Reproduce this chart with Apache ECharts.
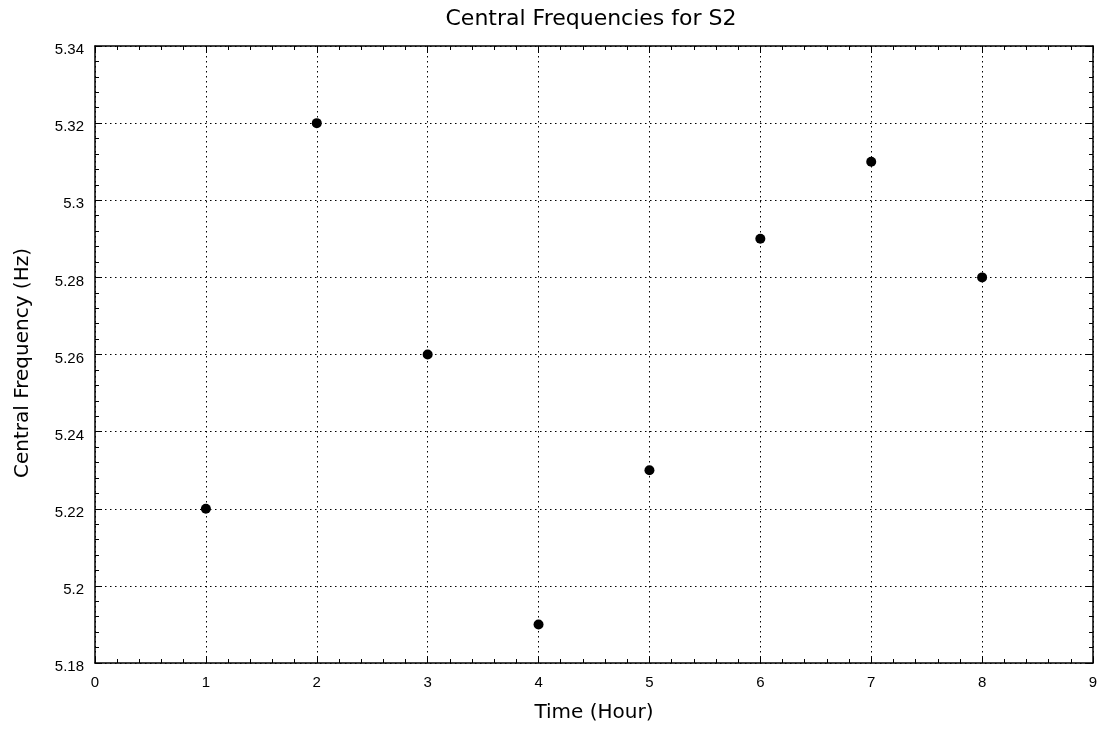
<!DOCTYPE html>
<html><head><meta charset="utf-8">
<script src="https://cdn.jsdelivr.net/npm/echarts@6/dist/echarts.min.js"></script>
<style>html,body{margin:0;padding:0;background:#fff}#c{width:1104px;height:730px}</style>
</head><body><div id="c"></div>
<script>
const titleText = 'Central Frequencies for S2';
const xName = 'Time (Hour)';
const yName = 'Central Frequency (Hz)';
const hours = [1, 2, 3, 4, 5, 6, 7, 8];
const freqs = [5.22, 5.32, 5.26, 5.19, 5.23, 5.29, 5.31, 5.28];
const xTicks = {min: 0, max: 9, interval: 1};
const yTicks = {min: 5.18, max: 5.34, interval: 0.02};

const chart = echarts.init(document.getElementById('c'));
const lineStyle = {color: '#000', width: 1.5};
const tick = {show: true, inside: true, length: 7, lineStyle: {color: '#000', width: 1}};
const minor = {show: true, splitNumber: 5, length: 4, lineStyle: {color: '#000', width: 1}};
const split = {show: true, lineStyle: {color: '#000', type: [1.5, 3.5], width: 1}};
const fmtY = v => String(+v.toFixed(2));
chart.setOption({
  animation: false,
  graphic: [{
    type: 'text', x: 591, y: 8,
    style: {text: titleText, fill: '#000', font: '22px "DejaVu Sans"', textAlign: 'center', textVerticalAlign: 'top'}
  }, {
    type: 'text', x: 23, y: 363, rotation: Math.PI / 2,
    style: {text: yName, fill: '#000', font: '20px "DejaVu Sans"', textAlign: 'center', textVerticalAlign: 'middle'}
  }],
  grid: {left: 95, right: 11, top: 46, bottom: 67, containLabel: false},
  xAxis: [{
    type: 'value', min: xTicks.min, max: xTicks.max, interval: xTicks.interval,
    name: xName, nameLocation: 'middle', nameGap: 40,
    nameTextStyle: {fontFamily: 'DejaVu Sans', fontSize: 20, color: '#000'},
    axisLine: {show: true, onZero: false, lineStyle}, axisTick: tick, minorTick: minor,
    splitLine: split,
    axisLabel: {color: '#000', fontFamily: 'Liberation Sans', fontSize: 15, margin: 12}
  }, {
    type: 'value', position: 'top', min: xTicks.min, max: xTicks.max, interval: xTicks.interval,
    axisLine: {show: true, onZero: false, lineStyle}, axisTick: tick, minorTick: minor,
    splitLine: {show: false}, axisLabel: {show: false}
  }],
  yAxis: [{
    type: 'value', min: yTicks.min, max: yTicks.max, interval: yTicks.interval,
    axisLine: {show: true, onZero: false, lineStyle}, axisTick: tick, minorTick: minor,
    splitLine: split,
    axisLabel: {color: '#000', fontFamily: 'Liberation Sans', fontSize: 15, margin: 11,
      verticalAlign: 'top', lineHeight: 8, formatter: fmtY}
  }, {
    type: 'value', position: 'right', min: yTicks.min, max: yTicks.max, interval: yTicks.interval,
    axisLine: {show: true, onZero: false, lineStyle}, axisTick: tick, minorTick: minor,
    splitLine: {show: false}, axisLabel: {show: false}
  }],
  series: [{
    type: 'scatter', xAxisIndex: 0, yAxisIndex: 0,
    data: hours.map((h, i) => [h, freqs[i]]),
    symbol: 'circle', symbolSize: 10, itemStyle: {color: '#000', opacity: 1}
  }]
});
</script></body></html>
